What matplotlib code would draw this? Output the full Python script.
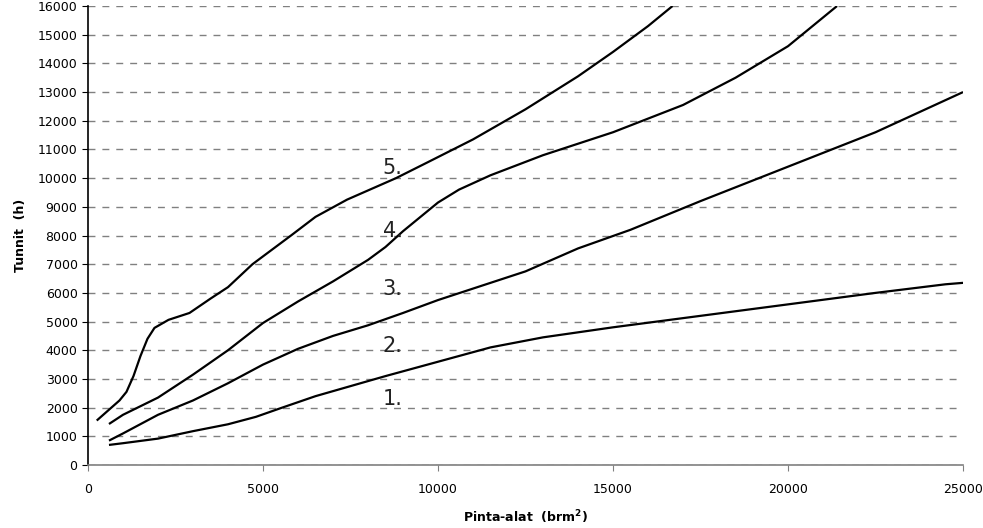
import matplotlib.pyplot as plt
from matplotlib.ticker import MultipleLocator

# curve data: basal area (brm2) vs hours
x1 = [600, 1000, 2000, 3000, 4000, 4800, 5500, 6500, 7500, 8500, 10000, 11500, 13000, 15000, 17500, 20000, 22500, 24500, 25000]
y1 = [700, 760, 920, 1180, 1420, 1680, 1980, 2400, 2750, 3100, 3600, 4100, 4450, 4800, 5200, 5600, 6000, 6300, 6350]

x2 = [600, 1000, 2000, 3000, 4000, 5000, 6000, 7000, 8000, 9000, 10000, 11000, 12500, 14000, 15500, 17500, 20000, 22500, 25000]
y2 = [850, 1100, 1750, 2250, 2850, 3500, 4050, 4500, 4870, 5300, 5750, 6150, 6750, 7550, 8200, 9200, 10400, 11600, 13000]

x3 = [600, 1000, 2000, 3000, 4000, 5000, 6000, 7000, 8000, 8500, 9000, 9500, 10000, 10600, 11500, 13000, 15000, 17000, 18500, 20000, 21400]
y3 = [1430, 1750, 2350, 3150, 4000, 4950, 5700, 6400, 7150, 7600, 8150, 8650, 9150, 9600, 10100, 10800, 11600, 12550, 13500, 14600, 16000]

x4 = [250, 900, 1100, 1300, 1500, 1700, 1900, 2300, 2900, 3500, 4000, 4700, 5800, 6500, 7400, 8800, 9700, 11000, 12500, 14000, 15000, 16000, 16700]
y4 = [1550, 2250, 2550, 3100, 3800, 4400, 4780, 5060, 5300, 5800, 6200, 7000, 8000, 8650, 9250, 10000, 10550, 11350, 12400, 13550, 14400, 15300, 16000]

labels = ['1.', '2.', '3.', '4.', '5.']
label_x = [8700, 8700, 8700, 8700, 8700]
label_y = [2300, 4150, 6150, 8150, 10350]

fig = plt.figure(figsize=(9.83, 5.28), dpi=100)
ax = fig.add_axes([0.0895, 0.1193, 0.8902, 0.8693])

for xs, ys in [(x1, y1), (x2, y2), (x3, y3), (x4, y4)]:
    ax.plot(xs, ys, color='black', lw=1.6, solid_capstyle='butt', zorder=3)

for t, lx, ly in zip(labels, label_x, label_y):
    ax.text(lx, ly, t, fontsize=15, ha='center', va='center', color='#222222')

ax.set_xlim(0, 25000)
ax.set_ylim(0, 16000)
ax.xaxis.set_major_locator(MultipleLocator(5000))
ax.yaxis.set_major_locator(MultipleLocator(1000))
ax.yaxis.grid(True, color='#808080', linestyle=(0, (5, 5)), linewidth=1)
ax.set_axisbelow(True)

for s in ['top', 'right']:
    ax.spines[s].set_visible(False)
ax.spines['bottom'].set_color('#808080')
ax.spines['bottom'].set_linewidth(1.2)
ax.spines['left'].set_linewidth(1.2)
ax.tick_params(axis='both', labelsize=9, length=4, direction='out')
ax.tick_params(axis='x', colors='#808080', labelcolor='black', pad=9)

ax.set_xlabel('Pinta-alat  (brm$^\\mathbf{2}$)', fontsize=9, fontweight='bold', labelpad=9)
ax.set_ylabel('Tunnit  (h)', fontsize=9, fontweight='bold', labelpad=8)

fig.savefig('out.png', dpi=100)
